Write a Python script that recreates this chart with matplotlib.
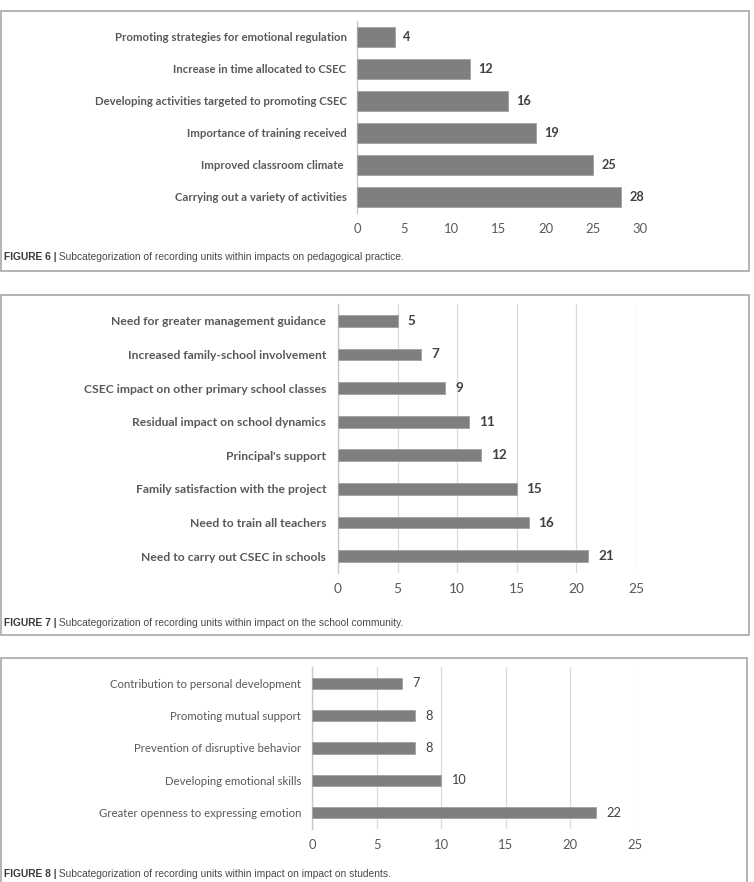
import matplotlib
matplotlib.use("Agg")
import matplotlib.pyplot as plt
from matplotlib.patches import Rectangle

# ---- data ----
fig6_labels = ["Promoting strategies for emotional regulation",
               "Increase in time allocated to CSEC",
               "Developing activities targeted to promoting CSEC",
               "Importance of training received",
               "Improved classroom climate ",
               "Carrying out a variety of activities"]
fig6_values = [4, 12, 16, 19, 25, 28]
fig6_ticks = [0, 5, 10, 15, 20, 25, 30]

fig7_labels = ["Need for greater management guidance",
               "Increased family-school involvement",
               "CSEC impact on other primary school classes",
               "Residual impact on school dynamics",
               "Principal's support",
               "Family satisfaction with the project",
               "Need to train all teachers",
               "Need to carry out CSEC in schools"]
fig7_values = [5, 7, 9, 11, 12, 15, 16, 21]
fig7_ticks = [0, 5, 10, 15, 20, 25]

fig8_labels = ["Contribution to personal development",
               "Promoting mutual support",
               "Prevention of disruptive behavior",
               "Developing emotional skills",
               "Greater openness to expressing emotion"]
fig8_values = [7, 8, 8, 10, 22]
fig8_ticks = [0, 5, 10, 15, 20, 25]

captions = [("FIGURE 6 |", " Subcategorization of recording units within impacts on pedagogical practice."),
            ("FIGURE 7 |", " Subcategorization of recording units within impact on the school community."),
            ("FIGURE 8 |", " Subcategorization of recording units within impact on impact on students.")]

W, H = 754, 882
CHART_FONT = ["Lato", "DejaVu Sans"]
CAP_FONT = ["Liberation Sans Narrow", "Liberation Sans", "DejaVu Sans"]

fig = plt.figure(figsize=(W / 100, H / 100), dpi=100)


def px_axes(x0, x1, y0, y1):
    return fig.add_axes([x0 / W, 1 - y1 / H, (x1 - x0) / W, (y1 - y0) / H])


def border(x0, x1, y0, y1):
    fig.patches.append(Rectangle((x0 / W, 1 - y1 / H), (x1 - x0) / W, (y1 - y0) / H,
                                 transform=fig.transFigure, fill=False,
                                 edgecolor="#a8a8a8", linewidth=1.2))


def bar_panel(ax, labels, values, ticks, height, fs, weight, grid, val_off, pad):
    y = list(range(len(labels)))
    ax.barh(y, values, height=height, color="#7f7f7f", edgecolor="#a5a5a5", linewidth=0.7, zorder=3)
    ax.set_ylim(len(labels) - 0.5, -0.5)
    ax.set_xlim(ticks[0], ticks[-1])
    ax.set_xticks(ticks)
    ax.set_yticks(y)
    ax.set_yticklabels(labels, fontsize=fs, color="#595959", family=CHART_FONT, weight=weight)
    for t in ax.get_xticklabels():
        t.set_fontsize(fs + 1.2)
        t.set_color("#595959")
        t.set_family(CHART_FONT)
    ax.tick_params(axis="both", length=0)
    ax.tick_params(axis="y", pad=pad)
    ax.tick_params(axis="x", pad=7.5)
    for s in ["top", "right", "bottom"]:
        ax.spines[s].set_visible(False)
    ax.spines["left"].set_color("#c8c8c8")
    ax.spines["left"].set_linewidth(1.0)
    if grid:
        ax.grid(axis="x", color="#d9d9d9", linewidth=0.9, zorder=0)
    ax.set_facecolor("none")
    for yi, v in zip(y, values):
        ax.annotate(str(v), (v, yi), xytext=(val_off, 0), textcoords="offset points",
                    va="center", ha="left", fontsize=fs + 1.0, color="#404040",
                    family=CHART_FONT, weight=weight)


# panel borders
border(0.5, 749, 11, 271)
border(0.5, 749, 295, 635)
border(0.5, 747, 658, 900)

ax1 = px_axes(357, 640, 21, 213)
bar_panel(ax1, fig6_labels, fig6_values, fig6_ticks, 0.6, 8.2, "bold", False, 6, 7.5)

ax2 = px_axes(338, 636, 304, 573)
bar_panel(ax2, fig7_labels, fig7_values, fig7_ticks, 0.35, 8.7, "bold", True, 7, 8.5)

ax3 = px_axes(312, 635, 667, 829)
bar_panel(ax3, fig8_labels, fig8_values, fig8_ticks, 0.35, 8.2, "normal", True, 7, 8)

# captions: bold "FIGURE n |" followed by regular text
renderer = fig.canvas.get_renderer()
for (bold_part, rest), yc in zip(captions, [257, 623, 874]):
    t = fig.text(4 / W, 1 - yc / H, bold_part, fontsize=7.4, weight="bold", color="#3a3a3a",
                 family=CAP_FONT, va="center", ha="left")
    bb = t.get_window_extent(renderer=renderer)
    fig.text(bb.x1 / W, 1 - yc / H, rest, fontsize=7.4, color="#4a4a4a",
             family=CAP_FONT, va="center", ha="left")

fig.savefig("out.png", dpi=100)
